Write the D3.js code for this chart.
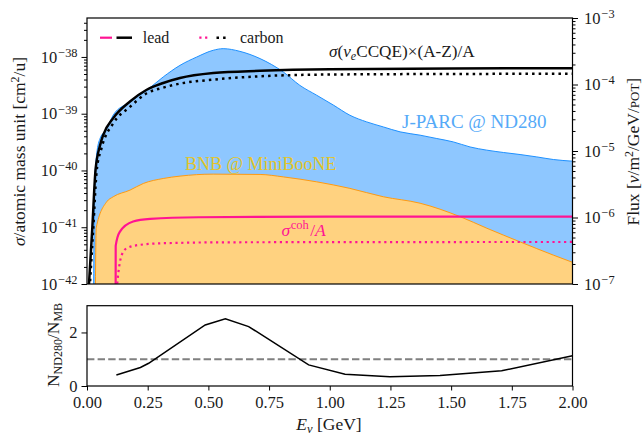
<!DOCTYPE html>
<html>
<head>
<meta charset="utf-8">
<script src="https://cdn.jsdelivr.net/npm/d3@7/dist/d3.min.js"></script>
<style>
  body { margin: 0; background: #fff; }
  svg { display: block; font-family: "Liberation Serif", "DejaVu Serif", serif; }
</style>
</head>
<body>
<svg id="chart" width="644" height="437"></svg>
<script>
// values (E in GeV)
const jparcEnergy = [0.027, 0.031, 0.040, 0.054, 0.080, 0.108, 0.177, 0.246, 0.314, 0.383, 0.452, 0.520, 0.561, 0.630, 0.713, 0.809, 0.877, 0.946, 1.015, 1.083, 1.152, 1.221, 1.290, 1.372, 1.441, 1.509, 1.578, 1.647, 1.715, 1.784, 1.853, 1.921, 2.0];
const jparcFlux = [5e-8, 3.0e-6, 9.0e-6, 1.55e-5, 2.1e-5, 3.47e-5, 5.46e-5, 8.18e-5, 1.30e-4, 1.94e-4, 2.59e-4, 3.27e-4, 3.46e-4, 3.15e-4, 2.45e-4, 1.54e-4, 9.7e-5, 6.9e-5, 4.9e-5, 3.45e-5, 2.74e-5, 2.30e-5, 1.94e-5, 1.73e-5, 1.54e-5, 1.37e-5, 1.15e-5, 1.03e-5, 9.5e-6, 8.85e-6, 8.15e-6, 7.45e-6, 7.03e-6];

const bnbEnergy = [0.034, 0.038, 0.081, 0.108, 0.177, 0.232, 0.314, 0.383, 0.520, 0.713, 0.809, 0.946, 1.083, 1.221, 1.372, 1.537, 1.647, 1.784, 1.921, 2.0];
const bnbFlux = [5e-8, 7.0e-7, 1.72e-6, 2.05e-6, 2.58e-6, 3.25e-6, 3.86e-6, 4.19e-6, 4.49e-6, 4.44e-6, 4.08e-6, 3.44e-6, 2.74e-6, 2.05e-6, 1.64e-6, 1.03e-6, 6.9e-7, 4.3e-7, 2.72e-7, 2.12e-7];

const ccqeLeadEnergy = [0.004, 0.022, 0.035, 0.054, 0.067, 0.108, 0.177, 0.246, 0.314, 0.383, 0.52, 0.713, 1.0, 1.5, 2.0];
const ccqeLeadXsec = [5e-43, 1e-41, 1e-40, 2.8e-40, 4.25e-40, 8.36e-40, 1.64e-39, 2.64e-39, 3.47e-39, 4.25e-39, 5.20e-39, 5.71e-39, 6.10e-39, 6.27e-39, 6.32e-39];

const ccqeCarbonEnergy = [0.008, 0.026, 0.040, 0.060, 0.108, 0.177, 0.246, 0.314, 0.383, 0.52, 0.713, 1.0, 1.5, 2.0];
const ccqeCarbonXsec = [5e-43, 1e-41, 1e-40, 2.5e-40, 6.76e-40, 1.32e-39, 2.29e-39, 2.88e-39, 3.39e-39, 3.98e-39, 4.57e-39, 4.90e-39, 5.01e-39, 5.06e-39];

const cohLeadEnergy = [0.1178, 0.1182, 0.135, 0.19, 0.26, 0.46, 1.0, 2.0];
const cohLeadXsec = [1e-43, 4.68e-42, 8.3e-42, 1.26e-41, 1.40e-41, 1.50e-41, 1.54e-41, 1.54e-41];

const cohCarbonEnergy = [0.1185, 0.129, 0.143, 0.164, 0.218, 0.328, 0.6, 2.0];
const cohCarbonXsec = [5e-43, 1.55e-42, 3.24e-42, 4.27e-42, 4.9e-42, 5.25e-42, 5.43e-42, 5.5e-42];

const ratioEnergy = [0.121, 0.22, 0.254, 0.487, 0.57, 0.666, 0.913, 1.063, 1.248, 1.454, 1.708, 2.0];
const ratioValue = [0.41, 0.69, 0.85, 2.28, 2.51, 2.22, 0.79, 0.44, 0.35, 0.39, 0.57, 1.13];

const energyTicks = [0, 0.25, 0.5, 0.75, 1.0, 1.25, 1.5, 1.75, 2.0];
const xsecTicks = [1e-42, 1e-41, 1e-40, 1e-39, 1e-38];
const fluxTicks = [1e-7, 1e-6, 1e-5, 1e-4, 1e-3];
const ratioTicks = [0, 2];

const svg = d3.select("#chart");
const left = 87, right = 572.5;
const topY0 = 18, topY1 = 284;
const botY0 = 305.7, botY1 = 386;

const x = d3.scaleLinear().domain([0, 2]).range([left, right]);
const ySig = d3.scaleLog().domain([1e-42, Math.pow(10, -37.314)]).range([topY1, topY0]);
const yFlux = d3.scaleLog().domain([1e-7, 1e-3]).range([topY1, topY0]);
const yRatio = d3.scaleLinear().domain([0, 3]).range([botY1, botY0]);

const zip = (a, b) => a.map((v, i) => [v, b[i]]);
const ink = "#1a1a1a";

svg.append("defs").append("clipPath").attr("id", "clipTop")
  .append("rect").attr("x", left).attr("y", topY0)
  .attr("width", right - left).attr("height", topY1 - topY0);

const plot = svg.append("g").attr("clip-path", "url(#clipTop)");

// fluxes (right axis)
const fluxArea = d3.area().x(d => x(d[0])).y0(topY1 + 50).y1(d => yFlux(d[1])).curve(d3.curveMonotoneX);
const fluxLine = d3.line().x(d => x(d[0])).y(d => yFlux(d[1])).curve(d3.curveMonotoneX);

const jparc = zip(jparcEnergy, jparcFlux);
const bnb = zip(bnbEnergy, bnbFlux);

plot.append("path").attr("d", fluxArea(jparc)).attr("fill", "#8ec7ff");
plot.append("path").attr("d", fluxLine(jparc)).attr("fill", "none").attr("stroke", "#1e90ff").attr("stroke-width", 1);
plot.append("path").attr("d", fluxArea(bnb)).attr("fill", "#ffd280");
plot.append("path").attr("d", fluxLine(bnb)).attr("fill", "none").attr("stroke", "#ff9a10").attr("stroke-width", 1);

// cross sections (left axis)
const sigLine = d3.line().x(d => x(d[0])).y(d => ySig(d[1])).curve(d3.curveMonotoneX);

plot.append("path").attr("d", sigLine(zip(cohLeadEnergy, cohLeadXsec)))
  .attr("fill", "none").attr("stroke", "#ff1493").attr("stroke-width", 2.2);
plot.append("path").attr("d", sigLine(zip(cohCarbonEnergy, cohCarbonXsec)))
  .attr("fill", "none").attr("stroke", "#ff1493").attr("stroke-width", 2.2)
  .attr("stroke-dasharray", "2.2,3.6");
plot.append("path").attr("d", sigLine(zip(ccqeCarbonEnergy, ccqeCarbonXsec)))
  .attr("fill", "none").attr("stroke", "#000").attr("stroke-width", 2.5)
  .attr("stroke-dasharray", "2.5,4.1");
plot.append("path").attr("d", sigLine(zip(ccqeLeadEnergy, ccqeLeadXsec)))
  .attr("fill", "none").attr("stroke", "#000").attr("stroke-width", 2.5);

// annotations
const ann = svg.append("g");
const t1 = ann.append("text").attr("x", 329).attr("y", 56.5).attr("font-size", 17.2).attr("fill", ink);
t1.append("tspan").attr("font-style", "italic").text("σ");
t1.append("tspan").text("(");
t1.append("tspan").attr("font-style", "italic").text("ν");
t1.append("tspan").attr("font-style", "italic").attr("font-size", 12).attr("dy", 3).text("e");
t1.append("tspan").attr("dy", -3).text("CCQE)×(A-Z)/A");

ann.append("text").attr("x", 402).attr("y", 128.3).attr("font-size", 19)
  .attr("fill", "#55aaf8").text("J-PARC @ ND280");
ann.append("text").attr("x", 185).attr("y", 170).attr("font-size", 18)
  .attr("fill", "#e2c42a").text("BNB @ MiniBooNE");

const t2 = ann.append("text").attr("x", 281.5).attr("y", 235.7).attr("font-size", 17.5).attr("fill", "#ff1493");
t2.append("tspan").attr("font-style", "italic").text("σ");
t2.append("tspan").attr("font-size", 12.5).attr("dy", -6.5).attr("dx", 0.5).text("coh");
t2.append("tspan").attr("dy", 6.5).attr("dx", 1.5).text("/");
t2.append("tspan").attr("font-style", "italic").text("A");

// legend
const leg = svg.append("g");
const legY = 37.7;
leg.append("line").attr("x1", 100).attr("x2", 112).attr("y1", legY).attr("y2", legY)
  .attr("stroke", "#ff1493").attr("stroke-width", 2.2);
leg.append("line").attr("x1", 116.5).attr("x2", 132).attr("y1", legY).attr("y2", legY)
  .attr("stroke", "#000").attr("stroke-width", 2.5);
leg.append("text").attr("x", 142.7).attr("y", legY + 5).attr("font-size", 16).attr("fill", ink).text("lead");
leg.append("line").attr("x1", 199.3).attr("x2", 209).attr("y1", legY).attr("y2", legY)
  .attr("stroke", "#ff1493").attr("stroke-width", 2.2).attr("stroke-dasharray", "2.2,3.6");
leg.append("line").attr("x1", 216.5).attr("x2", 228).attr("y1", legY).attr("y2", legY)
  .attr("stroke", "#000").attr("stroke-width", 2.5).attr("stroke-dasharray", "2.5,4.1");
leg.append("text").attr("x", 240).attr("y", legY + 5).attr("font-size", 16).attr("fill", ink).text("carbon");

// minor log ticks
function minorLog(scale) {
  const [a, b] = scale.domain();
  const out = [];
  for (let e = Math.floor(Math.log10(a)); e <= Math.ceil(Math.log10(b)); e++) {
    for (let k = 2; k <= 9; k++) {
      const v = k * Math.pow(10, e);
      if (v >= a && v <= b) out.push(v);
    }
  }
  return out;
}

function powLabels(g) {
  g.selectAll(".tick text").each(function (d) {
    const e = Math.round(Math.log10(d));
    const t = d3.select(this).text("10");
    t.append("tspan").attr("dy", "-0.48em").attr("dx", 1).attr("font-size", "0.75em").text("−" + Math.abs(e));
  });
}

function styleAxis(g) {
  g.select(".domain").remove();
  g.selectAll(".tick line").attr("stroke", "#000").attr("stroke-width", 1);
  g.selectAll(".tick text").attr("font-family", "Liberation Serif, DejaVu Serif, serif")
    .attr("font-size", 16.5).attr("fill", ink);
}

// left axis
svg.append("g").attr("transform", `translate(${left},0)`)
  .call(d3.axisLeft(ySig).tickValues(minorLog(ySig)).tickSize(3).tickFormat(""))
  .call(styleAxis);
svg.append("g").attr("transform", `translate(${left},0)`)
  .call(d3.axisLeft(ySig).tickValues(xsecTicks).tickSize(5.5).tickPadding(4))
  .call(styleAxis).call(powLabels);

// right axis
svg.append("g").attr("transform", `translate(${right},0)`)
  .call(d3.axisRight(yFlux).tickValues(minorLog(yFlux)).tickSize(3).tickFormat(""))
  .call(styleAxis);
svg.append("g").attr("transform", `translate(${right},0)`)
  .call(d3.axisRight(yFlux).tickValues(fluxTicks).tickSize(5.5).tickPadding(6))
  .call(styleAxis).call(powLabels);

// frame of top panel
svg.append("rect").attr("x", left).attr("y", topY0).attr("width", right - left).attr("height", topY1 - topY0)
  .attr("fill", "none").attr("stroke", "#000").attr("stroke-width", 1.2);

// ratio panel
svg.append("line").attr("x1", left).attr("x2", right).attr("y1", yRatio(1)).attr("y2", yRatio(1))
  .attr("stroke", "#808080").attr("stroke-width", 2).attr("stroke-dasharray", "7.4,3.2");
svg.append("path").attr("d", d3.line().x(d => x(d[0])).y(d => yRatio(d[1]))(zip(ratioEnergy, ratioValue)))
  .attr("fill", "none").attr("stroke", "#000").attr("stroke-width", 1.5);

svg.append("g").attr("transform", `translate(0,${botY1})`)
  .call(d3.axisBottom(x).tickValues(energyTicks).tickSize(4.5).tickPadding(6).tickFormat(d3.format(".2f")))
  .call(styleAxis);
svg.append("g").attr("transform", `translate(${left},0)`)
  .call(d3.axisLeft(yRatio).tickValues(ratioTicks).tickSize(5.5).tickPadding(4).tickFormat(d3.format("d")))
  .call(styleAxis);

svg.append("rect").attr("x", left).attr("y", botY0).attr("width", right - left).attr("height", botY1 - botY0)
  .attr("fill", "none").attr("stroke", "#000").attr("stroke-width", 1.2);

// axis titles
const yl = svg.append("text").attr("transform", "translate(25,151.5) rotate(-90)")
  .attr("text-anchor", "middle").attr("font-size", 17.5).attr("fill", ink);
yl.append("tspan").attr("font-style", "italic").text("σ");
yl.append("tspan").text("/atomic mass unit [cm");
yl.append("tspan").attr("font-size", 12).attr("dy", -6).text("2");
yl.append("tspan").attr("dy", 6).text("/u]");

const yr = svg.append("text").attr("transform", "translate(639,151.7) rotate(-90)")
  .attr("text-anchor", "middle").attr("font-size", 17.5).attr("fill", ink);
yr.append("tspan").text("Flux [");
yr.append("tspan").attr("font-style", "italic").text("ν");
yr.append("tspan").text("/m");
yr.append("tspan").attr("font-size", 12).attr("dy", -6).text("2");
yr.append("tspan").attr("dy", 6).text("/GeV/");
yr.append("tspan").attr("font-size", 13).text("POT");
yr.append("tspan").text("]");

const yb = svg.append("text").attr("transform", "translate(59,345) rotate(-90)")
  .attr("text-anchor", "middle").attr("font-size", 17.5).attr("fill", ink);
yb.append("tspan").text("N");
yb.append("tspan").attr("font-size", 12).attr("dy", 3).text("ND280");
yb.append("tspan").attr("dy", -3).text("/N");
yb.append("tspan").attr("font-size", 12).attr("dy", 3).text("MB");

const xl = svg.append("text").attr("x", 329).attr("y", 430)
  .attr("text-anchor", "middle").attr("font-size", 17.5).attr("fill", ink);
xl.append("tspan").attr("font-style", "italic").text("E");
xl.append("tspan").attr("font-style", "italic").attr("font-size", 12.5).attr("dy", 3).text("ν");
xl.append("tspan").attr("dy", -3).text(" [GeV]");
</script>
</body>
</html>
